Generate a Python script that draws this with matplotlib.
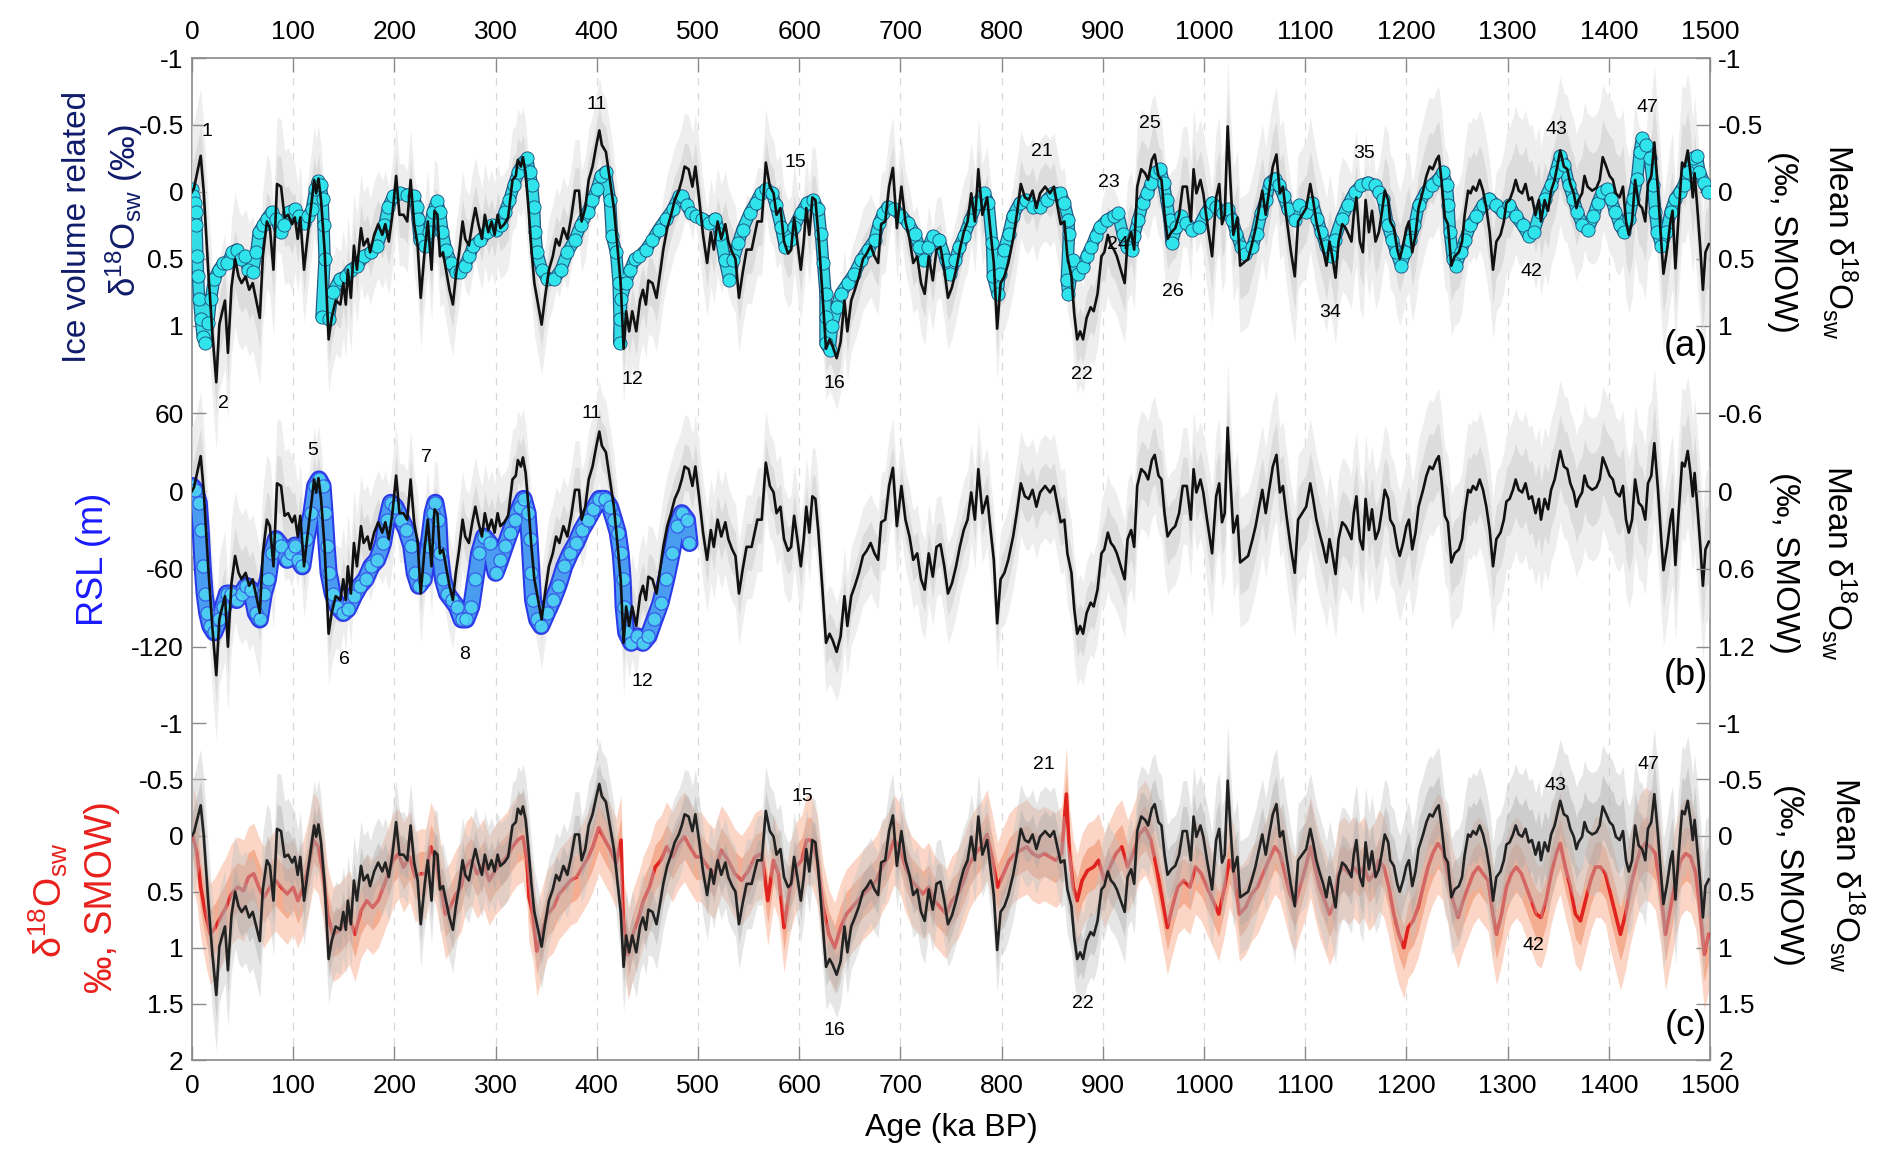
import numpy as np
import matplotlib.pyplot as plt

plt.rcParams['font.family'] = ['Liberation Sans', 'DejaVu Sans']
plt.rcParams['mathtext.fontset'] = 'custom'
plt.rcParams['mathtext.rm'] = 'Liberation Sans'
plt.rcParams['mathtext.it'] = 'Liberation Sans:italic'

# mean d18Osw stack (ka, permil) - black curve
black = [
    (0, 0.0), (2, -0.03), (8.6, -0.27), (11.5, -0.01), (16, 0.58), (20, 1.04), (24, 1.42), (27, 0.99),
    (30, 0.89), (32.6, 0.81), (35.5, 1.2), (39, 0.71), (42.6, 0.50), (46, 0.63), (49, 0.68), (53, 0.63),
    (56.5, 0.73), (60, 0.68), (63, 0.79), (67, 0.94), (70, 0.48), (74, 0.22), (77, 0.27), (80.5, 0.58),
    (84, -0.06), (88, -0.04), (91.5, 0.19), (95, 0.17), (99, 0.24), (101.6, 0.19), (104.5, 0.35), (107, 0.19),
    (110.7, 0.58), (114, 0.35), (118, 0.09), (120.7, -0.09), (122.7, 0.01), (125, -0.10), (127.5, 0.06),
    (131, 0.43), (135, 1.10), (138, 0.94), (142, 0.81), (146.6, 0.84), (149.5, 0.68), (152, 0.84), (154, 0.58),
    (157, 0.79), (160, 0.40), (163, 0.58), (167, 0.27), (169.6, 0.40), (173.5, 0.35), (176, 0.45), (180, 0.32),
    (184, 0.24), (188, 0.32), (191, 0.24), (194.5, 0.37), (198, 0.17), (201.7, -0.12), (205, 0.17), (209, 0.17),
    (212.7, 0.22), (216, -0.09), (219.5, 0.24), (223, 0.40), (226, 0.79), (230, 0.43), (233, 0.22), (236.7, 0.58),
    (239.6, 0.14), (242.5, 0.17), (245, 0.48), (248, 0.45), (251, 0.58), (254.4, 0.73), (257.8, 0.84),
    (260.7, 0.63), (264, 0.45), (267.4, 0.22), (270, 0.35), (273.6, 0.40), (277, 0.24), (280, 0.12), (283, 0.24),
    (286.5, 0.35), (289.4, 0.17), (292.8, 0.30), (296, 0.22), (299, 0.32), (302, 0.17), (304.7, 0.27),
    (308.6, 0.24), (312.4, 0.19), (316.7, -0.09), (320, -0.12), (322, -0.24), (325, -0.19), (327, -0.26),
    (329.7, -0.14), (332.5, 0.12), (335.4, 0.43), (338.3, 0.68), (342, 0.84), (345.5, 0.99), (348.8, 0.79),
    (352.7, 0.58), (356.5, 0.48), (359.8, 0.35), (363, 0.40), (367, 0.27), (370.9, 0.35), (374.7, 0.19),
    (378.5, -0.01), (382.4, -0.01), (385, 0.22), (388.6, 0.12), (392, -0.09), (395.8, -0.19), (399.6, -0.35),
    (402.5, -0.46), (405, -0.35), (409, -0.30), (413, -0.09), (416.9, 0.12), (419.7, 0.35), (423.6, 0.68),
    (426.5, 1.17), (429, 0.89), (432, 1.04), (435, 0.89), (439, 1.04), (442.7, 0.81), (445.6, 0.73),
    (448.5, 0.84), (451, 0.66), (455, 0.68), (459, 0.79), (463, 0.58), (465.7, 0.43), (469.6, 0.27),
    (473.4, 0.17), (477, 0.06), (481, -0.01), (484, -0.09), (486.8, -0.19), (490.7, -0.17), (494.5, -0.04),
    (497.4, -0.19), (501, 0.04), (505, 0.32), (509, 0.53), (512.7, 0.30), (515.6, 0.43), (519.4, 0.22),
    (523, 0.35), (527, 0.24), (530, 0.37), (533.8, 0.45), (537, 0.50), (540.5, 0.79), (544, 0.61), (548, 0.43),
    (553, 0.43), (558.7, 0.22), (563, 0.22), (567, -0.22), (571, -0.04), (574.7, 0.01), (577.6, 0.17),
    (581.5, 0.12), (585, 0.37), (589, 0.46), (592, 0.43), (595, 0.19), (598.7, 0.40), (601.6, 0.58),
    (604.5, 0.37), (607, 0.12), (610, 0.32), (613, 0.04), (616, 0.06), (618.8, 0.30), (622.7, 0.73),
    (626.5, 1.17), (630, 1.10), (633, 1.15), (637, 1.24), (640.9, 1.12), (644.7, 0.81), (647.6, 1.04),
    (651.4, 0.81), (655, 0.73), (659, 0.63), (663, 0.50), (666.7, 0.46), (670.6, 0.40), (674.4, 0.48),
    (678, 0.53), (681, 0.24), (685, 0.22), (688.8, -0.04), (692.6, -0.18), (696.5, 0.27), (701, -0.04),
    (705, 0.22), (709, 0.35), (712.7, 0.53), (716.6, 0.48), (720.4, 0.68), (724, 0.76), (728, 0.48), (732, 0.66),
    (735.7, 0.43), (739.6, 0.41), (743.4, 0.58), (747, 0.79), (751, 0.71), (755, 0.58), (758.7, 0.43),
    (762.6, 0.30), (766.4, 0.22), (770, 0.01), (773.6, 0.22), (777, -0.17), (781, 0.17), (785.7, 0.04),
    (789.4, 0.32), (792.3, 0.53), (795.6, 1.02), (799, 0.68), (802.8, 0.63), (806.6, 0.53), (811.4, 0.35),
    (815, 0.17), (819, -0.06), (823, 0.04), (826.8, 0.06), (830.6, -0.01), (834.4, 0.12), (838, 0.01),
    (843, -0.04), (847.8, 0.01), (851.7, -0.04), (855.5, 0.12), (858.4, 0.24), (862, 0.22), (865, 0.48),
    (869, 0.63), (871.8, 0.91), (874.7, 1.10), (877.6, 1.04), (880.5, 1.10), (884, 0.94), (888, 0.86),
    (891, 0.89), (894.8, 0.76), (898.7, 0.48), (901.5, 0.45), (905, 0.32), (908, 0.40), (911, 0.43),
    (913.9, 0.48), (917.8, 0.58), (921.6, 0.68), (924.5, 0.37), (928, 0.30), (931, 0.43), (934, -0.04),
    (938, -0.17), (941.8, -0.14), (944.8, -0.09), (948.5, -0.24), (951.3, -0.28), (955, -0.12), (958, -0.09),
    (961, 0.17), (964, 0.35), (967.7, 0.30), (971.6, 0.27), (975.4, 0.17), (979, -0.04), (983, -0.04),
    (987, 0.22), (989.7, -0.17), (992.5, 0.01), (996.5, -0.09), (999.3, 0.01), (1003, 0.22), (1008, 0.48),
    (1012, 0.04), (1015, -0.06), (1017.8, 0.24), (1020.5, 0.17), (1023.4, -0.49), (1026, -0.09), (1029, 0.32),
    (1033, 0.19), (1035.7, 0.55), (1043.6, 0.50), (1048, 0.37), (1051, 0.27), (1054, 0.14), (1057.6, -0.01),
    (1061, 0.17), (1064, 0.01), (1068, -0.19), (1071.6, -0.28), (1075, 0.01), (1078, -0.04), (1081.5, 0.19),
    (1085.6, 0.43), (1089.7, 0.63), (1093, 0.22), (1097, 0.17), (1101, 0.12), (1105, -0.06), (1107.8, 0.06),
    (1111, 0.22), (1114, 0.32), (1117.7, 0.43), (1121, 0.55), (1124, 0.37), (1126.7, 0.48), (1130, 0.64),
    (1133, 0.37), (1136.6, 0.24), (1140, 0.27), (1143, 0.32), (1145.7, 0.37), (1148, 0.17), (1150.6, 0.04),
    (1154, 0.37), (1157, 0.45), (1159.7, 0.06), (1163, 0.30), (1166, 0.14), (1169.5, 0.37), (1172.8, 0.30),
    (1176, 0.14), (1178.6, -0.01), (1182, 0.06), (1184, 0.22), (1187.6, 0.27), (1191, 0.43), (1193.4, 0.50),
    (1196.7, 0.40), (1200, 0.27), (1202.5, 0.22), (1205.8, 0.45), (1209, 0.32), (1212, 0.12), (1216.5, -0.01),
    (1219.8, -0.12), (1223, -0.19), (1226, -0.17), (1229.6, -0.24), (1232, -0.27), (1234.6, -0.09),
    (1238, 0.19), (1241, 0.24), (1244.4, 0.55), (1247.7, 0.48), (1251.8, 0.45), (1255, 0.37), (1257.6, 0.17),
    (1261, -0.01), (1263.4, 0.01), (1265.8, -0.04), (1269, -0.01), (1272.4, -0.09), (1275.7, -0.01),
    (1279, 0.12), (1282.3, 0.30), (1285.6, 0.58), (1288.9, 0.37), (1293, 0.32), (1296.3, 0.22), (1298.8, 0.08),
    (1302, 0.06), (1305.3, -0.01), (1308, -0.09), (1311, -0.01), (1314.4, 0.01), (1317.7, -0.06), (1321, 0.06),
    (1324, 0.04), (1327.6, 0.17), (1330.9, 0.06), (1333, 0.22), (1336.6, 0.06), (1340, 0.14), (1343, -0.01),
    (1346.5, -0.09), (1349, -0.19), (1352, -0.31), (1355.6, -0.19), (1359, -0.17), (1362, -0.06),
    (1365.4, 0.01), (1368, 0.12), (1370, 0.06), (1373.6, 0.01), (1376, -0.12), (1379, -0.04), (1383.5, -0.01),
    (1387.7, -0.03), (1391, -0.09), (1394, -0.26), (1397.5, -0.19), (1400.8, -0.12), (1404, -0.09),
    (1407, 0.01), (1410.7, 0.04), (1414, -0.04), (1417, 0.22), (1419.8, 0.32), (1423, 0.22), (1426, -0.09),
    (1429.6, 0.09), (1432.9, 0.12), (1436, 0.22), (1438.7, -0.06), (1442, -0.12), (1445, -0.37),
    (1448.6, -0.01), (1451.8, 0.37), (1454, 0.61), (1457.6, 0.43), (1460.9, 0.22), (1463, 0.14),
    (1465.8, 0.57), (1469, 0.17), (1472.4, -0.22), (1475, -0.19), (1478, -0.31), (1480.7, -0.14),
    (1483, 0.04), (1484.8, -0.14), (1488, 0.17), (1490.5, 0.43), (1493, 0.73), (1495.5, 0.45), (1498.8, 0.39),
]

# ice-volume related d18Osw (panel a, cyan dots)
ice = [
    (0, -0.02), (1, 0.03), (2.7, 0.08), (3.5, 0.15), (4.4, 0.25), (5.3, 0.48), (6, 0.63), (7, 0.80), (8.8, 0.95),
    (10.6, 1.08), (13, 1.13), (16, 0.98), (18.6, 0.80), (22, 0.65), (26.5, 0.58), (31, 0.53), (35, 0.53),
    (40, 0.45), (44, 0.43), (48.6, 0.50), (52, 0.48), (55.7, 0.58), (60, 0.60), (63.6, 0.45), (66, 0.30),
    (70, 0.25), (74, 0.20), (78.7, 0.15), (83, 0.20), (87.5, 0.30), (91, 0.25), (96, 0.15), (101.6, 0.13),
    (106, 0.18), (110.5, 0.23), (115, 0.18), (118.4, 0.13), (122, -0.02), (124.6, -0.08), (127, -0.05),
    (129, 0.05), (130, 0.25), (131, 0.50), (128, 0.93), (135, 0.95), (139, 0.75), (146, 0.65), (152, 0.63),
    (157, 0.58), (163, 0.55), (170, 0.48), (177, 0.45), (183, 0.40), (190, 0.25), (194, 0.11), (199, 0.03),
    (205.5, 0.01), (212, 0.02), (219, 0.03), (222, 0.11), (223, 0.20), (225, 0.36), (230, 0.40), (234, 0.30),
    (238, 0.15), (242, 0.07), (245, 0.15), (247.5, 0.30), (251, 0.43), (256, 0.53), (260.7, 0.60), (265, 0.60),
    (269.5, 0.55), (274, 0.48), (278, 0.40), (285, 0.36), (291.6, 0.30), (296, 0.25), (300.5, 0.28),
    (305, 0.25), (309, 0.15), (313.7, 0.06), (318, -0.05), (322.6, -0.15), (327, -0.22), (331, -0.25),
    (333.6, -0.15), (336, -0.05), (338, 0.11), (339, 0.30), (341, 0.45), (345.6, 0.58), (351, 0.65),
    (358, 0.65), (364.6, 0.58), (371, 0.45), (378, 0.36), (384, 0.25), (391, 0.15), (395.5, 0.06), (400, -0.02),
    (404, -0.12), (408.7, -0.15), (413, 0.06), (415, 0.33), (419, 0.45), (421.6, 0.68), (422.5, 0.95),
    (422.5, 1.13), (424.2, 0.80), (428.6, 0.68), (433, 0.58), (437.5, 0.50), (442, 0.48), (448.5, 0.43),
    (455, 0.36), (461, 0.28), (468.4, 0.20), (475, 0.13), (481.6, 0.03), (484.5, 0.03), (489, 0.10),
    (493, 0.16), (498, 0.18), (504, 0.20), (511, 0.23), (517, 0.20), (522, 0.31), (526.5, 0.51), (531, 0.66),
    (535, 0.51), (539.8, 0.38), (544, 0.28), (551, 0.16), (557, 0.08), (562, 0.01), (567, -0.02), (573, 0.01),
    (577, 0.10), (582, 0.26), (586, 0.41), (590.5, 0.36), (595, 0.26), (601.6, 0.16), (608, 0.08), (614, 0.06),
    (619, 0.13), (621.5, 0.31), (623.7, 0.53), (626, 0.76), (626, 0.93), (626, 1.13), (630, 1.18), (632.5, 1.0),
    (637, 0.86), (641, 0.76), (648, 0.68), (654.6, 0.61), (661, 0.51), (668, 0.43), (674.5, 0.36), (679, 0.23),
    (683, 0.16), (687.7, 0.11), (694, 0.13), (701, 0.18), (707.6, 0.23), (714, 0.31), (718.6, 0.41),
    (723, 0.51), (727.5, 0.41), (732, 0.33), (738.5, 0.36), (745, 0.51), (749.5, 0.61), (754, 0.51),
    (758, 0.41), (763, 0.33), (769, 0.21), (776, 0.08), (782.7, 0.01), (787, 0.08), (790.6, 0.38),
    (791.5, 0.63), (796, 0.76), (798, 0.61), (802.6, 0.43), (807, 0.31), (811, 0.18), (818, 0.08),
    (824.6, 0.06), (831, 0.11), (838, 0.11), (844.5, 0.06), (851, 0.01), (858, 0.01), (862, 0.08), (866, 0.21),
    (866.6, 0.31), (864.4, 0.66), (866, 0.76), (871, 0.51), (875.4, 0.61), (880, 0.56), (884, 0.48),
    (888.7, 0.41), (893, 0.33), (897.5, 0.26), (904, 0.21), (911, 0.18), (915, 0.16), (919.6, 0.31), (924, 0.41),
    (928.4, 0.43), (930.7, 0.33), (935, 0.21), (939.5, 0.08), (944, 0.01), (948, -0.07), (952.7, -0.15),
    (957, -0.17), (960, -0.07), (963, 0.06), (966, 0.21), (968, 0.38), (972.6, 0.26), (977, 0.18), (982, 0.23),
    (988, 0.28), (994.7, 0.26), (1001.6, 0.16), (1008, 0.08), (1012, 0.11), (1019, 0.16), (1023.4, 0.13),
    (1028, 0.21), (1032, 0.31), (1036.7, 0.41), (1041, 0.46), (1047.7, 0.41), (1052, 0.31), (1056.5, 0.16),
    (1061, 0.06), (1065, -0.07), (1070, -0.10), (1074, -0.05), (1078.6, 0.03), (1083, 0.13), (1089.7, 0.21),
    (1094, 0.1), (1101, 0.15), (1107, 0.08), (1112, 0.2), (1116, 0.3), (1120.5, 0.4), (1125, 0.48),
    (1129, 0.36), (1136, 0.2), (1142, 0.1), (1149, 0.0), (1155.5, -0.05), (1162, -0.07), (1168.6, -0.05),
    (1173, 0.0), (1177, 0.05), (1181.7, 0.25), (1186, 0.36), (1190, 0.45), (1194.8, 0.55), (1199, 0.45),
    (1203.5, 0.36), (1208, 0.25), (1212, 0.1), (1219, 0.0), (1225, -0.05), (1232, -0.1), (1236, -0.15),
    (1240, -0.05), (1241.5, 0.1), (1243, 0.3), (1246, 0.5), (1249, 0.55), (1253.7, 0.45), (1258, 0.36),
    (1263, 0.25), (1269, 0.18), (1275.5, 0.1), (1282, 0.05), (1288.6, 0.1), (1295, 0.15), (1301.7, 0.1),
    (1308, 0.18), (1315, 0.25), (1321, 0.33), (1325.8, 0.3), (1332, 0.15), (1336.7, 0.05), (1343, -0.05),
    (1347.6, -0.15), (1352, -0.27), (1356, -0.2), (1360.7, -0.05), (1365, 0.05), (1369, 0.15), (1374, 0.25),
    (1379.5, 0.28), (1384.7, 0.18), (1389, 0.08), (1393.4, 0.0), (1398, -0.02), (1402, 0.05), (1406.6, 0.15),
    (1411, 0.25), (1415, 0.3), (1419.7, 0.2), (1424, 0.05), (1428, -0.1), (1430.6, -0.3), (1432.8, -0.4),
    (1437, -0.35), (1440.6, -0.25), (1443.7, -0.05), (1446, 0.15), (1448, 0.3), (1452, 0.4), (1456.8, 0.3),
    (1461, 0.15), (1465.5, 0.05), (1470, 0.0), (1474, -0.05), (1478.6, -0.15), (1483, -0.25), (1487, -0.27),
    (1489.5, -0.15), (1494, -0.07), (1498, 0.0),
]

# relative sea level (panel b, m)
rsl = [
    (0, 4), (3, 1), (6.7, -9), (8.6, -30), (10.5, -58), (12.5, -79), (15, -94), (18, -104), (22, -109),
    (27, -99), (30.7, -89), (34.5, -79), (39, -79), (44, -84), (49, -79), (53.7, -73), (58.5, -76), (63, -94),
    (67, -99), (71, -79), (75, -68), (78.6, -48), (83, -37), (88, -42), (94, -53), (97.7, -48), (101.6, -42),
    (105, -53), (109, -58), (113, -37), (118, -17), (121.7, 4), (125.5, 9), (129, 4), (131, -17), (133, -42),
    (135, -63), (139, -79), (143.7, -89), (149.5, -94), (154, -91), (160, -81), (165.8, -73), (171.5, -68),
    (177, -58), (183, -53), (188.8, -40), (192.6, -22), (196.5, -9), (201, -12), (207, -22), (211.8, -30),
    (216.6, -42), (220, -63), (224, -73), (229, -68), (233.8, -42), (237.7, -17), (240.5, -9), (243.4, -22),
    (245, -48), (248, -68), (252, -79), (256.8, -84), (261.6, -89), (266.4, -99), (271, -99), (276, -89),
    (280, -68), (283.7, -48), (288.5, -35), (294, -40), (300, -63), (304.7, -53), (309.5, -42), (314, -32),
    (319, -22), (324, -12), (327.7, -6), (331.6, -17), (333.5, -37), (335.4, -63), (337, -84), (341, -99),
    (345, -104), (350.7, -94), (356.5, -84), (362, -73), (368, -58), (373.7, -48), (379.5, -40), (385, -30),
    (391, -22), (396.7, -14), (402.5, -6), (408, -6), (413, -12), (417, -22), (420.7, -32), (423.6, -48),
    (425.5, -68), (426.5, -89), (429, -109), (434, -117), (440, -112), (445.6, -117), (451, -112), (457, -99),
    (463, -86), (468.6, -68), (474, -48), (479, -27), (484, -17), (489, -22), (491.6, -40),
]

# d18Osw reconstruction (panel c, red)
red = [
    (1, 0.01), (5, 0.16), (8.6, 0.46), (13.4, 0.70), (18, 0.88), (23, 0.82), (28, 0.73), (33.6, 0.64),
    (39, 0.52), (45, 0.46), (51, 0.49), (55.7, 0.37), (61, 0.34), (66, 0.46), (71, 0.55), (77, 0.46),
    (82.5, 0.40), (88, 0.46), (94, 0.52), (100, 0.46), (104.6, 0.58), (110, 0.46), (115, 0.28), (120, 0.04),
    (124.8, 0.10), (129.6, 0.34), (134, 0.70), (139, 0.88), (145, 0.85), (150.7, 0.79), (155.5, 0.73),
    (161, 0.88), (167, 0.67), (172.7, 0.58), (178.5, 0.64), (184, 0.58), (189, 0.46), (194, 0.34),
    (198.7, 0.22), (204, 0.16), (209, 0.28), (215, 0.19), (220.7, 0.37), (225.5, 0.34), (231, 0.34),
    (236, 0.10), (241, 0.22), (245.7, 0.46), (250.5, 0.70), (255, 0.64), (261, 0.52), (265.8, 0.46),
    (270.6, 0.28), (276, 0.22), (282, 0.34), (288, 0.25), (293.7, 0.40), (299.4, 0.31), (305, 0.25),
    (311, 0.19), (316.7, 0.10), (321.5, 0.04), (327, 0.01), (331, 0.22), (333, 0.55), (336.8, 0.70),
    (340.7, 1.03), (345.5, 0.88), (351, 0.70), (357, 0.64), (362.8, 0.52), (368.5, 0.46), (374, 0.40),
    (380, 0.37), (385.8, 0.28), (391.6, 0.19), (396, 0.10), (402, -0.07), (408, 0.04), (413.6, 0.13),
    (419, 0.25), (424, 0.04), (426, 0.73), (431, 1.06), (435.7, 0.88), (441.5, 0.73), (446, 0.58), (452, 0.46),
    (457.8, 0.28), (463.5, 0.22), (469, 0.10), (475, 0.19), (481, 0.07), (486.6, 0.01), (492, 0.10),
    (498, 0.19), (503, 0.19), (509.6, 0.28), (516, 0.34), (523, 0.13), (529.7, 0.22), (536.4, 0.34),
    (543, 0.40), (550, 0.31), (556.5, 0.19), (563, 0.16), (569, 0.58), (574.7, 0.22), (579.5, 0.34),
    (585, 0.82), (591, 0.46), (596.8, 0.28), (602.5, 0.22), (607.3, 0.04), (612, 0.04), (617.9, 0.22),
    (623.6, 0.64), (629.4, 0.88), (635, 1.00), (640.9, 0.82), (646.6, 0.70), (652.4, 0.64), (658, 0.58),
    (663.9, 0.52), (670.6, 0.46), (676.3, 0.40), (682, 0.28), (687.8, 0.19), (693.6, 0.04), (699.3, 0.10),
    (705, 0.28), (710.8, 0.40), (716.6, 0.46), (722.3, 0.52), (728, 0.46), (733.8, 0.58), (739.6, 0.64),
    (745.3, 0.70), (751, 0.58), (756.9, 0.52), (762.6, 0.40), (768.3, 0.25), (774, 0.16), (779.8, 0.10),
    (785.6, -0.01), (790.4, 0.19), (796, 0.46), (801.9, 0.34), (807.6, 0.22), (813.4, 0.16), (819, 0.13),
    (824.9, 0.10), (830.6, 0.16), (836.4, 0.19), (842, 0.16), (847.9, 0.19), (853.6, 0.22), (859.4, 0.16),
    (864, -0.37), (867, 0.16), (870.9, 0.46), (874.7, 0.58), (879.5, 0.40), (885, 0.31), (891, 0.28),
    (895.8, 0.22), (901.5, 0.40), (907, 0.28), (913, 0.16), (918.8, 0.10), (924.5, 0.28), (930, 0.16),
    (936, -0.01), (941.8, -0.07), (947.5, 0.04), (953, 0.28), (959, 0.58), (963.8, 0.82), (968.6, 0.64),
    (974, 0.46), (980, 0.40), (986, 0.46), (991.6, 0.28), (997.4, 0.34), (1003, 0.46), (1009, 0.58),
    (1014.6, 0.70), (1020.4, 0.46), (1025, 0.22), (1030, 0.34), (1035, 0.70), (1041, 0.64), (1047, 0.52),
    (1052.7, 0.46), (1058.4, 0.34), (1064, 0.22), (1070, 0.10), (1075, 0.16), (1080, 0.34), (1085, 0.52),
    (1090, 0.61), (1094.7, 0.46), (1100.4, 0.28), (1105.3, 0.10), (1109.5, 0.28), (1114.4, 0.46),
    (1119.3, 0.58), (1124, 0.70), (1128.4, 0.61), (1133, 0.34), (1138, 0.28), (1143, 0.34), (1148, 0.28),
    (1153, 0.34), (1158, 0.28), (1163, 0.40), (1168, 0.34), (1172.8, 0.22), (1177.8, 0.28), (1182.7, 0.46),
    (1187.6, 0.70), (1192.6, 0.88), (1197.5, 1.00), (1201.6, 0.82), (1206.6, 0.76), (1211.5, 0.64),
    (1216.5, 0.46), (1221.4, 0.28), (1226, 0.16), (1231, 0.07), (1236, 0.13), (1241, 0.34), (1246, 0.58),
    (1251, 0.73), (1256, 0.58), (1261, 0.46), (1266, 0.34), (1271, 0.28), (1275.7, 0.34), (1280.7, 0.40),
    (1285.6, 0.70), (1289, 0.88), (1294, 0.70), (1298.8, 0.46), (1303.7, 0.34), (1308.6, 0.28),
    (1313.6, 0.34), (1318.5, 0.46), (1323.5, 0.58), (1328.4, 0.70), (1333, 0.73), (1338, 0.58), (1343, 0.34),
    (1348, 0.16), (1352, 0.07), (1357, 0.28), (1362, 0.46), (1367, 0.70), (1372, 0.76), (1377, 0.58),
    (1382, 0.40), (1386.8, 0.28), (1391.8, 0.28), (1396.7, 0.34), (1401.6, 0.52), (1406.6, 0.70),
    (1411.5, 0.88), (1416.5, 0.70), (1421.4, 0.46), (1426.3, 0.28), (1431, 0.13), (1436, 0.07), (1441, 0.10),
    (1446, 0.16), (1451, 0.46), (1456, 0.88), (1461, 0.64), (1466, 0.40), (1471, 0.22), (1476, 0.16),
    (1481, 0.19), (1486, 0.34), (1490, 0.64), (1494.4, 1.06), (1498.6, 0.88),
]

# uncertainty half-widths per 100 ka block (1 and 2 sigma)
gray_sd1 = [0.22, 0.18, 0.17, 0.17, 0.18, 0.18, 0.17, 0.17, 0.18, 0.22, 0.25, 0.25, 0.26, 0.28, 0.30]
gray_sd2 = [0.50, 0.40, 0.38, 0.38, 0.40, 0.40, 0.38, 0.38, 0.40, 0.45, 0.50, 0.50, 0.52, 0.55, 0.58]
red_sd1 = [0.22, 0.20, 0.20, 0.20, 0.20, 0.20, 0.20, 0.20, 0.20, 0.20, 0.20, 0.20, 0.22, 0.22, 0.24]
red_sd2 = [0.45, 0.42, 0.40, 0.40, 0.40, 0.40, 0.40, 0.40, 0.42, 0.42, 0.42, 0.45, 0.45, 0.45, 0.50]

labels_a = [("1", 15, -0.45), ("2", 31, 1.58), ("11", 400, -0.65), ("12", 435, 1.40), ("15", 596, -0.22),
            ("16", 635, 1.43), ("21", 840, -0.30), ("22", 879, 1.36), ("23", 906, -0.07), ("24", 915, 0.39),
            ("25", 947, -0.51), ("26", 969, 0.74), ("34", 1125, 0.90), ("35", 1158, -0.29),
            ("42", 1324, 0.59), ("43", 1348, -0.47), ("47", 1438, -0.63)]
labels_b = [("5", 119, 31), ("6", 151, -130), ("7", 232, 26), ("8", 269, -126), ("11", 395, 60),
            ("12", 445, -147)]
labels_c = [("15", 603, -0.35), ("16", 635, 1.74), ("21", 842, -0.63), ("22", 880, 1.50),
            ("42", 1326, 0.98), ("43", 1347, -0.45), ("47", 1439, -0.63)]

bk_age, bk_val = map(np.array, zip(*black))
ice_age, ice_val = map(np.array, zip(*ice))
rsl_age, rsl_val = map(np.array, zip(*rsl))
red_age, red_val = map(np.array, zip(*red))


def per_block(sd, ages):
    idx = np.minimum((ages // 100).astype(int), len(sd) - 1)
    return np.asarray(sd)[idx]


g1 = per_block(gray_sd1, bk_age)
g2 = per_block(gray_sd2, bk_age)
r1 = per_block(red_sd1, red_age)
r2 = per_block(red_sd2, red_age)

TICK = '#8a8a8a'
LIGHT = '#eeeeee'
DARK = '#dcdcdc'

fig = plt.figure(figsize=(18.92, 11.68), dpi=100)
rect = [192 / 1892, 1 - 1060 / 1168, (1710 - 192) / 1892, (1060 - 58) / 1168]

# frame with both x axes and dashed guides
frame = fig.add_axes(rect)
frame.set_xlim(0, 1500)
frame.set_ylim(0, 1)
frame.set_yticks([])
frame.set_xticks(np.arange(0, 1501, 100))
frame.tick_params(axis='x', direction='in', length=10, width=1, color=TICK, top=True, labeltop=True,
                  bottom=True, labelbottom=True, labelsize=19, pad=10)
for s in frame.spines.values():
    s.set_color(TICK)
    s.set_linewidth(1.2)
for xv in range(100, 1500, 100):
    frame.axvline(xv, color='#d8d8d8', lw=0.9, ls=(0, (6, 6)), zorder=0)


def overlay(ylim):
    ax = fig.add_axes(rect, frameon=False)
    ax.set_xlim(0, 1500)
    ax.set_ylim(*ylim)
    ax.tick_params(axis='x', bottom=False, labelbottom=False)
    ax.tick_params(axis='y', direction='in', length=10, width=1, color=TICK, labelsize=19, pad=6)
    return ax


def ticks(ax, vals, txt, right=True):
    ax.set_yticks(vals)
    ax.set_yticklabels(txt)
    ax.tick_params(axis='y', left=True, right=right, labelleft=True, labelright=right)


tube = dict(solid_joinstyle='round', solid_capstyle='round')

# (a)
axA = overlay((6.478, -1))
ticks(axA, [-1, -0.5, 0, 0.5, 1], ['-1', '-0.5', '0', '0.5', '1'])
axA.fill_between(bk_age, bk_val - g2, bk_val + g2, color=LIGHT, lw=0, zorder=1)
axA.fill_between(bk_age, bk_val - g1, bk_val + g1, color=DARK, lw=0, zorder=2)
axA.plot(ice_age, ice_val, color='#1f5a84', lw=9, zorder=3, **tube)
axA.plot(ice_age, ice_val, color='#34dde6', lw=7.2, zorder=3, **tube)
axA.plot(ice_age, ice_val, 'o', ms=9.5, mfc='#30e4ec', mec='#1d4c78', mew=0.6, zorder=3)
axA.plot(bk_age, bk_val, color='#111111', lw=1.9, zorder=4)
for t, x, y in labels_a:
    axA.text(x, y, t, fontsize=14, ha='center', va='center', zorder=5)
axA.text(1476, 1.15, '(a)', fontsize=26, ha='center', va='center')

# (b) RSL with the stack on the matching permil scale (0.6 permil = 60 m)
axB = overlay((-438.8, 334.1))
ticks(axB, [-120, -60, 0, 60], ['-120', '-60', '0', '60'], right=False)
axB2 = axB.twinx()
axB2.set_frame_on(False)
axB2.set_ylim(4.388, -3.341)
axB2.set_yticks([-0.6, 0, 0.6, 1.2])
axB2.set_yticklabels(['-0.6', '0', '0.6', '1.2'])
axB2.tick_params(axis='y', direction='in', length=10, width=1, color=TICK, labelsize=19, pad=6)
axB.fill_between(bk_age, -100 * (bk_val - g2), -100 * (bk_val + g2), color=LIGHT, lw=0, zorder=1)
axB.fill_between(bk_age, -100 * (bk_val - g1), -100 * (bk_val + g1), color=DARK, lw=0, zorder=2)
axB.plot(rsl_age, rsl_val, color='#2a3ae8', lw=13, zorder=3, **tube)
axB.plot(rsl_age, rsl_val, color='#4a9cf0', lw=10, zorder=3, **tube)
axB.plot(rsl_age, rsl_val, 'o', ms=9.5, mfc='#4fd9f3', mec='#3446e6', mew=0.9, alpha=0.8, zorder=3)
axB.plot(bk_age, -100 * bk_val, color='#111111', lw=1.9, zorder=4)
for t, x, y in labels_b:
    axB.text(x, y, t, fontsize=14, ha='center', va='center', zorder=5)
axB.text(1476, -142, '(b)', fontsize=26, ha='center', va='center')

# (c)
axC = overlay((2, -6.93))
ticks(axC, [-1, -0.5, 0, 0.5, 1, 1.5, 2], ['-1', '-0.5', '0', '0.5', '1', '1.5', '2'])
axC.fill_between(red_age, red_val - r2, red_val + r2, color='#fbd6c6', lw=0, zorder=1)
axC.fill_between(red_age, red_val - r1, red_val + r1, color='#f4ad90', lw=0, zorder=2)
axC.plot(red_age, red_val, color='#e0231f', lw=2.6, zorder=3)
axC.fill_between(bk_age, bk_val - g2, bk_val + g2, color='#c4c4c4', alpha=0.42, lw=0, zorder=4)
axC.fill_between(bk_age, bk_val - g1, bk_val + g1, color='#a6a6a6', alpha=0.38, lw=0, zorder=4)
axC.plot(bk_age, bk_val, color='#222222', lw=1.9, zorder=5)
for t, x, y in labels_c:
    axC.text(x, y, t, fontsize=14, ha='center', va='center', zorder=6)
axC.text(1476, 1.70, '(c)', fontsize=26, ha='center', va='center')

# axis titles
navy = '#101c6a'
fig.text(0.0412, 0.806, 'Ice volume related', rotation=90, fontsize=24, color=navy, ha='center', va='center')
fig.text(0.0655, 0.820, 'δ$^{18}$O$_{\\rm sw}$ (‰)', rotation=90, fontsize=25, color=navy,
         ha='center', va='center')
fig.text(0.0495, 0.521, 'RSL (m)', rotation=90, fontsize=26, color='#1a1aff', ha='center', va='center')
fig.text(0.0255, 0.229, 'δ$^{18}$O$_{\\rm sw}$', rotation=90, fontsize=27, color='#e8201c',
         ha='center', va='center')
fig.text(0.0540, 0.232, '‰, SMOW)', rotation=90, fontsize=27, color='#e8201c', ha='center', va='center')

for ym, xm, xs in [(0.793, 0.9725, 0.9419), (0.518, 0.9720, 0.9434), (0.251, 0.9760, 0.9455)]:
    fig.text(xm, ym, 'Mean δ$^{18}$O$_{\\rm sw}$', rotation=270, fontsize=24, ha='center', va='center')
    fig.text(xs, ym, '(‰, SMOW)', rotation=270, fontsize=24, ha='center', va='center')

fig.text(0.5026, 0.034, 'Age (ka BP)', fontsize=23, ha='center', va='center')

fig.savefig('out.png', dpi=100)
